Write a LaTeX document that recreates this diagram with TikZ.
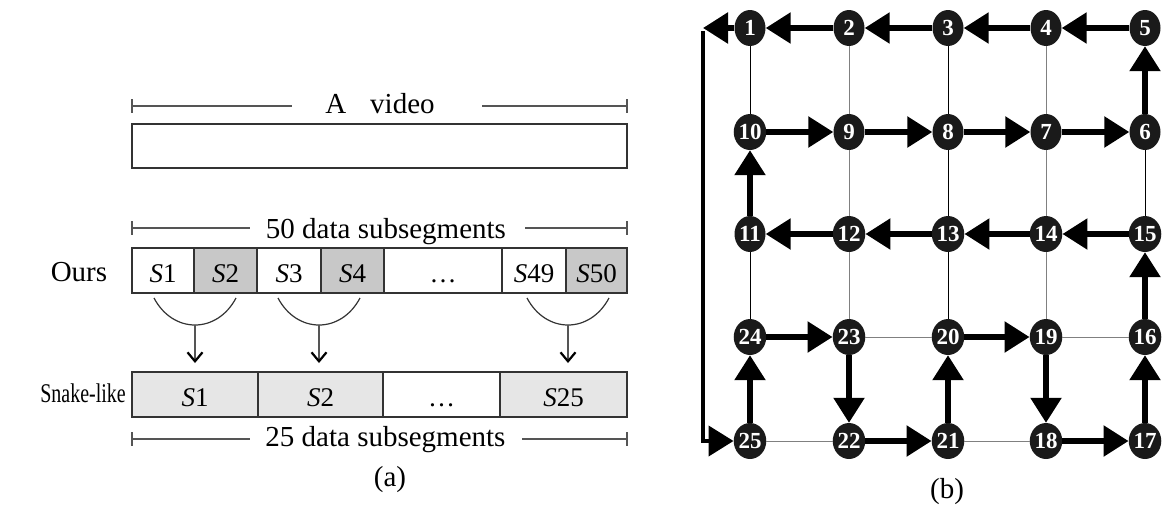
\documentclass[tikz,border=0pt]{standalone}
\usepackage{fontspec}
\setmainfont{Liberation Serif}
\usetikzlibrary{arrows.meta,shapes.geometric}
\definecolor{nodeblack}{HTML}{1A1A1A}
\definecolor{dimgray}{HTML}{555555}
\definecolor{gridgray}{HTML}{808080}
\definecolor{cellgray}{HTML}{C8C8C8}
\definecolor{celllight}{HTML}{E6E6E6}
\definecolor{edgecol}{HTML}{333333}
\begin{document}
\begin{tikzpicture}[x=1pt,y=-1pt,
  dimline/.style={draw=dimgray, line width=1.2pt},
  cellbox/.style={rectangle, draw=edgecol, line width=1.3pt, minimum height=45pt,
    inner sep=0pt, outer sep=0pt, text height=24pt, text depth=0pt,
    font=\fontsize{27}{27}\selectfont},
  bigtext/.style={font=\fontsize{29}{31}\selectfont},
  arcline/.style={draw=edgecol, line width=1.2pt},
  downarr/.style={draw=dimgray, line width=1.2pt, shorten >=9pt,
    -{Straight Barb[length=9pt,width=15pt,line width=2.2pt,color=black]}},
  gn/.style={ellipse, fill=nodeblack, minimum width=31pt, minimum height=36pt,
    inner sep=0pt, text=white, font=\fontsize{23}{23}\selectfont\bfseries},
  flow/.style={line width=5.5pt, -{Triangle[length=25pt,width=30pt]}},
  loopline/.style={line width=4pt},
  thinblack/.style={line width=1pt, draw=black},
  thingray/.style={line width=1pt, draw=gridgray}
]
\useasboundingbox (0,0) rectangle (1162,507);

% ---------------- panel (a) ----------------
% A video
\node[bigtext, anchor=base] (tvideo) at (380,113) {A\hspace{24pt}video};
\coordinate (v1) at (132,106); \coordinate (v2) at (292,106);
\coordinate (v3) at (482,106); \coordinate (v4) at (627,106);
\draw[dimline] (v1) -- (v2) (v3) -- (v4);
\draw[dimline] ([yshift=7pt]v1) -- ([yshift=-7pt]v1) ([yshift=7pt]v4) -- ([yshift=-7pt]v4);
\node[rectangle, draw=edgecol, line width=1.3pt, minimum width=495pt, minimum height=44pt,
  inner sep=0pt, outer sep=0pt] (video) at (379.5,146) {};

% 50 data subsegments
\node[bigtext, anchor=base] (t50) at (386,238) {50 data subsegments};
\coordinate (f1) at (132,228); \coordinate (f2) at (250,228);
\coordinate (f3) at (525,228); \coordinate (f4) at (627,228);
\draw[dimline] (f1) -- (f2) (f3) -- (f4);
\draw[dimline] ([yshift=7pt]f1) -- ([yshift=-7pt]f1) ([yshift=7pt]f4) -- ([yshift=-7pt]f4);

% Ours row
\node[bigtext, anchor=base] (ours) at (79,281) {Ours};
\node[cellbox, minimum width=62pt, fill=white] (o1) at (163,270.5) {\textit{S}1};
\node[cellbox, minimum width=63pt, fill=cellgray] (o2) at (225.5,270.5) {\textit{S}2};
\node[cellbox, minimum width=64pt, fill=white] (o3) at (289,270.5) {\textit{S}3};
\node[cellbox, minimum width=63pt, fill=cellgray] (o4) at (352.5,270.5) {\textit{S}4};
\node[cellbox, minimum width=118pt, fill=white] (odots) at (443,270.5) {\dots};
\node[cellbox, minimum width=64pt, fill=white] (o49) at (534,270.5) {\textit{S}49};
\node[cellbox, minimum width=61pt, fill=cellgray] (o50) at (596.5,270.5) {\textit{S}50};

% Snake-like row
\node[font=\fontsize{27}{29}\selectfont, anchor=base east, inner sep=0pt] (snake) at (126,402)
  {\scalebox{0.74}[1]{Snake-like}};
\node[cellbox, minimum width=126pt, fill=celllight] (s1) at (195,394.5) {\textit{S}1};
\node[cellbox, minimum width=125pt, fill=celllight] (s2) at (320.5,394.5) {\textit{S}2};
\node[cellbox, minimum width=117pt, fill=white] (sdots) at (441.5,394.5) {\dots};
\node[cellbox, minimum width=127pt, fill=celllight] (s25) at (563.5,394.5) {\textit{S}25};

% merging arcs and arrows
\draw[arcline] (154,298) .. controls (173,334) and (217,334) .. (236,298);
\draw[arcline] (278,298) .. controls (297,334) and (341,334) .. (360,298);
\draw[arcline] (527,298) .. controls (546,334) and (590,334) .. (609,298);
\coordinate (b1) at (195,325);
\coordinate (b2) at (319,325);
\coordinate (b3) at (568,325);
\draw[downarr] (b1) -- (b1 |- s1.north);
\draw[downarr] (b2) -- (b2 |- s2.north);
\draw[downarr] (b3) -- (b3 |- s25.north);

% 25 data subsegments
\node[bigtext, anchor=base] (t25) at (385.5,446) {25 data subsegments};
\coordinate (g1) at (132,439); \coordinate (g2) at (250,439);
\coordinate (g3) at (522,439); \coordinate (g4) at (627,439);
\draw[dimline] (g1) -- (g2) (g3) -- (g4);
\draw[dimline] ([yshift=7pt]g1) -- ([yshift=-7pt]g1) ([yshift=7pt]g4) -- ([yshift=-7pt]g4);

\node[bigtext, anchor=base] (capa) at (390,486) {(a)};

% ---------------- panel (b) ----------------
\node[gn] (n1)  at (750,28)  {1};
\node[gn] (n2)  at (849,28)  {2};
\node[gn] (n3)  at (948,28)  {3};
\node[gn] (n4)  at (1046,28) {4};
\node[gn] (n5)  at (1145,28) {5};
\node[gn] (n10) at (750,132) {10};
\node[gn] (n9)  at (849,132) {9};
\node[gn] (n8)  at (948,132) {8};
\node[gn] (n7)  at (1046,132) {7};
\node[gn] (n6)  at (1145,132) {6};
\node[gn] (n11) at (750,234) {11};
\node[gn] (n12) at (849,234) {12};
\node[gn] (n13) at (948,234) {13};
\node[gn] (n14) at (1046,234) {14};
\node[gn] (n15) at (1145,234) {15};
\node[gn] (n24) at (750,337) {24};
\node[gn] (n23) at (849,337) {23};
\node[gn] (n20) at (948,337) {20};
\node[gn] (n19) at (1046,337) {19};
\node[gn] (n16) at (1145,337) {16};
\node[gn] (n25) at (750,441) {25};
\node[gn] (n22) at (849,441) {22};
\node[gn] (n21) at (948,441) {21};
\node[gn] (n18) at (1046,441) {18};
\node[gn] (n17) at (1145,441) {17};

% thin grid lines
\draw[thinblack] (n1) -- (n10) (n11) -- (n24) (n3) -- (n8) (n8) -- (n13) (n13) -- (n20) (n6) -- (n15);
\draw[thingray] (n2) -- (n9) (n9) -- (n12) (n12) -- (n23) (n4) -- (n7) (n7) -- (n14) (n14) -- (n19);
\draw[thingray] (n23) -- (n20) (n19) -- (n16) (n25) -- (n22) (n21) -- (n18);

% snake path
\draw[flow] (n2) -- (n1);
\draw[flow] (n3) -- (n2);
\draw[flow] (n4) -- (n3);
\draw[flow] (n5) -- (n4);
\draw[flow] (n6) -- (n5);
\draw[flow] (n7) -- (n6);
\draw[flow] (n8) -- (n7);
\draw[flow] (n9) -- (n8);
\draw[flow] (n10) -- (n9);
\draw[flow] (n11) -- (n10);
\draw[flow] (n12) -- (n11);
\draw[flow] (n13) -- (n12);
\draw[flow] (n14) -- (n13);
\draw[flow] (n15) -- (n14);
\draw[flow] (n16) -- (n15);
\draw[flow] (n17) -- (n16);
\draw[flow] (n18) -- (n17);
\draw[flow] (n19) -- (n18);
\draw[flow] (n20) -- (n19);
\draw[flow] (n21) -- (n20);
\draw[flow] (n22) -- (n21);
\draw[flow] (n23) -- (n22);
\draw[flow] (n24) -- (n23);
\draw[flow] (n25) -- (n24);

% wrap-around from 1 back to 25
\coordinate (lt) at (703,28);
\coordinate (ltb) at (703,31);
\coordinate (lb) at (703,441);
\draw[flow] (n1) -- (lt);
\draw[loopline, -{Triangle[length=25pt,width=30pt]}] (ltb) -- (lb) -- (n25);

\node[bigtext, anchor=base] (capb) at (947,498) {(b)};
\end{tikzpicture}
\end{document}
